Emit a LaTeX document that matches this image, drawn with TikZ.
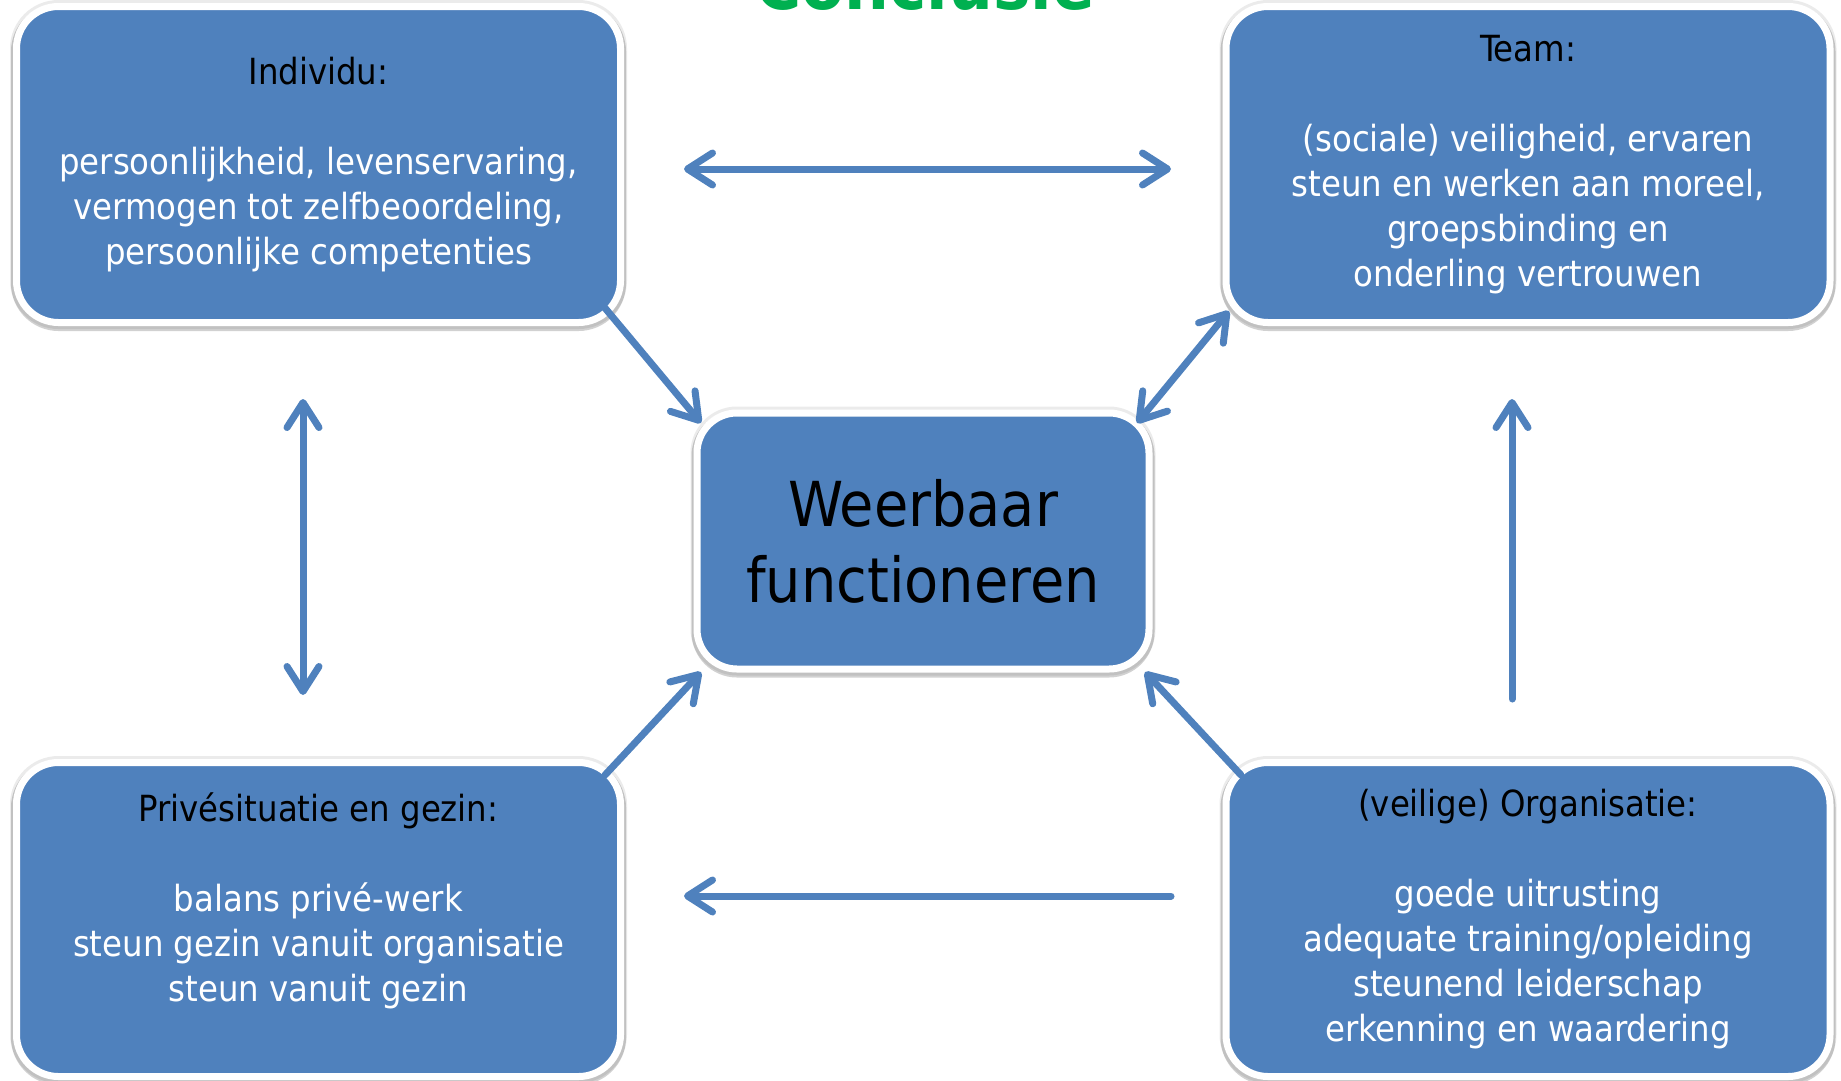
\documentclass[tikz,border=0pt]{standalone}
\usepackage{fontspec}
\setmainfont{DejaVu Sans Condensed}
\usetikzlibrary{arrows.meta}
\definecolor{boxblue}{HTML}{4F81BD}
\definecolor{titlegreen}{HTML}{00B050}
\begin{document}
\begin{tikzpicture}[x=1pt,y=-1pt,
  box/.style={draw=white, line width=7pt, fill=boxblue, rounded corners=42pt,
    preaction={draw=black, line width=13pt, opacity=0.08},
    preaction={draw=black, line width=11pt, opacity=0.18, transform canvas={yshift=-3pt}},
    align=center, inner sep=0pt, text=white,
    font=\fontsize{36}{45}\selectfont},
  link/.style={draw=boxblue, line width=7pt, line cap=round,
    arrows={-Straight Barb[length=25pt,width=32pt,round]}},
  dlink/.style={link, arrows={Straight Barb[length=25pt,width=32pt,round]-Straight Barb[length=25pt,width=32pt,round]}}
]
\useasboundingbox (0,0) rectangle (1841,1080);
\clip (0,0) rectangle (1841,1080);

\node[font=\bfseries\fontsize{70}{80}\selectfont, text=titlegreen, anchor=base] (title) at (925,9) {Conclusie};

\node[box, minimum width=604pt, minimum height=316pt] (tl) at (318.5,164.5)
  {{\color{black}Individu:}\\[45pt]persoonlijkheid, levenservaring,\\vermogen tot zelfbeoordeling,\\persoonlijke competenties};
\node[box, minimum width=604pt, minimum height=316pt] (tr) at (1528,164.5)
  {{\color{black}Team:}\\[45pt](sociale) veiligheid, ervaren\\steun en werken aan moreel,\\groepsbinding en\\onderling vertrouwen};
\node[box, minimum width=604pt, minimum height=314pt] (bl) at (318.5,919.5)
  {{\color{black}Privésituatie en gezin:}\\[45pt]balans privé-werk\\steun gezin vanuit organisatie\\steun vanuit gezin\\\mbox{}};
\node[box, minimum width=604pt, minimum height=314pt] (br) at (1528,919.5)
  {{\color{black}(veilige) Organisatie:}\\[45pt]goede uitrusting\\adequate training/opleiding\\steunend leiderschap\\erkenning en waardering};
\node[box, minimum width=452pt, minimum height=256pt, rounded corners=40pt,
  text=black, font=\fontsize{62}{76}\selectfont] (c) at (923,541)
  {Weerbaar\\functioneren};

% arrow end points
\coordinate (h1a) at (684,169);
\coordinate (h1b) at (1171,169);
\coordinate (h2a) at (1171,896);
\coordinate (h2b) at (684,896);
\coordinate (v1a) at (303,399);
\coordinate (v1b) at (303,695);
\coordinate (v2a) at (1512,699);
\coordinate (v2b) at (1512,399);
\coordinate (d1a) at (605,308);
\coordinate (d1b) at (701,423);
\coordinate (d2a) at (1137,423);
\coordinate (d2b) at (1229,311);
\coordinate (d3a) at (605,775);
\coordinate (d3b) at (701,672);
\coordinate (d4a) at (1241,775);
\coordinate (d4b) at (1145,672);

\draw[dlink] (h1a) -- (h1b);
\draw[link] (h2a) -- (h2b);
\draw[dlink] (v1a) -- (v1b);
\draw[link] (v2a) -- (v2b);
\draw[link] (d1a) -- (d1b);
\draw[dlink] (d2a) -- (d2b);
\draw[link] (d3a) -- (d3b);
\draw[link] (d4a) -- (d4b);
\end{tikzpicture}
\end{document}
